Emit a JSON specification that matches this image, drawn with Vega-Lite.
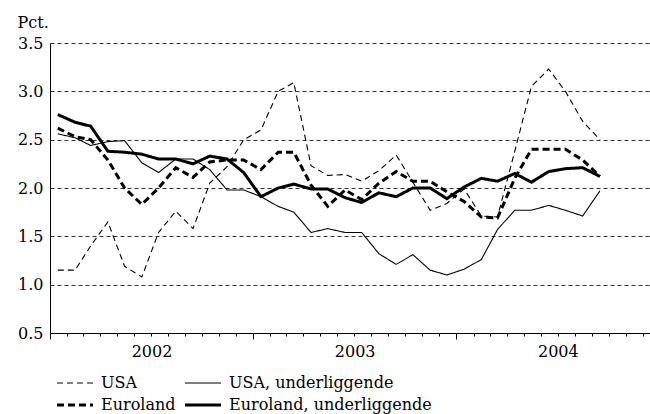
{
  "$schema": "https://vega.github.io/schema/vega-lite/v6.json",
  "width": 600,
  "height": 290,
  "autosize": {"type": "none"},
  "padding": {"left": 50, "top": 43, "right": 0, "bottom": 81},
  "background": "white",
  "config": {
    "view": {"stroke": null},
    "font": "DejaVu Serif",
    "axis": {"labelFont": "DejaVu Serif", "titleFont": "DejaVu Serif", "labelColor": "black", "titleColor": "black"},
    "legend": {"labelFont": "DejaVu Serif"}
  },
  "data": {
    "values": [
      {"date": "2002-01-15", "USA": 1.15, "USA, underliggende": 2.56, "Euroland": 2.62, "Euroland, underliggende": 2.76},
      {"date": "2002-02-15", "USA": 1.15, "USA, underliggende": 2.52, "Euroland": 2.53, "Euroland, underliggende": 2.68},
      {"date": "2002-03-15", "USA": 1.40, "USA, underliggende": 2.44, "Euroland": 2.50, "Euroland, underliggende": 2.64},
      {"date": "2002-04-15", "USA": 1.65, "USA, underliggende": 2.48, "Euroland": 2.29, "Euroland, underliggende": 2.38},
      {"date": "2002-05-15", "USA": 1.19, "USA, underliggende": 2.49, "Euroland": 2.00, "Euroland, underliggende": 2.37},
      {"date": "2002-06-15", "USA": 1.08, "USA, underliggende": 2.26, "Euroland": 1.83, "Euroland, underliggende": 2.35},
      {"date": "2002-07-15", "USA": 1.54, "USA, underliggende": 2.16, "Euroland": 2.00, "Euroland, underliggende": 2.30},
      {"date": "2002-08-15", "USA": 1.76, "USA, underliggende": 2.30, "Euroland": 2.21, "Euroland, underliggende": 2.30},
      {"date": "2002-09-15", "USA": 1.58, "USA, underliggende": 2.30, "Euroland": 2.11, "Euroland, underliggende": 2.25},
      {"date": "2002-10-15", "USA": 2.05, "USA, underliggende": 2.19, "Euroland": 2.27, "Euroland, underliggende": 2.33},
      {"date": "2002-11-15", "USA": 2.22, "USA, underliggende": 1.98, "Euroland": 2.29, "Euroland, underliggende": 2.30},
      {"date": "2002-12-15", "USA": 2.50, "USA, underliggende": 1.98, "Euroland": 2.29, "Euroland, underliggende": 2.16},
      {"date": "2003-01-15", "USA": 2.60, "USA, underliggende": 1.91, "Euroland": 2.19, "Euroland, underliggende": 1.91},
      {"date": "2003-02-15", "USA": 3.00, "USA, underliggende": 1.81, "Euroland": 2.37, "Euroland, underliggende": 2.00},
      {"date": "2003-03-15", "USA": 3.09, "USA, underliggende": 1.75, "Euroland": 2.37, "Euroland, underliggende": 2.04},
      {"date": "2003-04-15", "USA": 2.23, "USA, underliggende": 1.54, "Euroland": 2.03, "Euroland, underliggende": 1.99},
      {"date": "2003-05-15", "USA": 2.13, "USA, underliggende": 1.58, "Euroland": 1.81, "Euroland, underliggende": 1.99},
      {"date": "2003-06-15", "USA": 2.14, "USA, underliggende": 1.54, "Euroland": 1.98, "Euroland, underliggende": 1.90},
      {"date": "2003-07-15", "USA": 2.07, "USA, underliggende": 1.54, "Euroland": 1.88, "Euroland, underliggende": 1.85},
      {"date": "2003-08-15", "USA": 2.18, "USA, underliggende": 1.32, "Euroland": 2.05, "Euroland, underliggende": 1.95},
      {"date": "2003-09-15", "USA": 2.34, "USA, underliggende": 1.21, "Euroland": 2.17, "Euroland, underliggende": 1.91},
      {"date": "2003-10-15", "USA": 2.06, "USA, underliggende": 1.31, "Euroland": 2.07, "Euroland, underliggende": 2.00},
      {"date": "2003-11-15", "USA": 1.77, "USA, underliggende": 1.15, "Euroland": 2.07, "Euroland, underliggende": 2.00},
      {"date": "2003-12-15", "USA": 1.84, "USA, underliggende": 1.10, "Euroland": 1.96, "Euroland, underliggende": 1.89},
      {"date": "2004-01-15", "USA": 1.99, "USA, underliggende": 1.16, "Euroland": 1.86, "Euroland, underliggende": 2.01},
      {"date": "2004-02-15", "USA": 1.71, "USA, underliggende": 1.26, "Euroland": 1.70, "Euroland, underliggende": 2.10},
      {"date": "2004-03-15", "USA": 1.70, "USA, underliggende": 1.57, "Euroland": 1.69, "Euroland, underliggende": 2.07},
      {"date": "2004-04-15", "USA": 2.38, "USA, underliggende": 1.77, "Euroland": 2.10, "Euroland, underliggende": 2.15},
      {"date": "2004-05-15", "USA": 3.05, "USA, underliggende": 1.77, "Euroland": 2.40, "Euroland, underliggende": 2.06},
      {"date": "2004-06-15", "USA": 3.23, "USA, underliggende": 1.82, "Euroland": 2.40, "Euroland, underliggende": 2.17},
      {"date": "2004-07-15", "USA": 3.00, "USA, underliggende": 1.77, "Euroland": 2.40, "Euroland, underliggende": 2.20},
      {"date": "2004-08-15", "USA": 2.69, "USA, underliggende": 1.71, "Euroland": 2.29, "Euroland, underliggende": 2.21},
      {"date": "2004-09-15", "USA": 2.50, "USA, underliggende": 1.97, "Euroland": 2.12, "Euroland, underliggende": 2.12}
    ]
  },
  "transform": [
    {"fold": ["USA", "USA, underliggende", "Euroland", "Euroland, underliggende"], "as": ["series", "value"]}
  ],
  "layer": [
    {
      "mark": {"type": "rule", "opacity": 0},
      "encoding": {
        "x": {
          "field": "date", "type": "temporal",
          "scale": {"type": "utc", "domain": [{"year": 2002, "month": 1, "date": 1, "utc": true}, {"year": 2004, "month": 12, "date": 14, "utc": true}]},
          "axis": {
            "orient": "bottom", "title": null, "domain": false, "grid": false,
            "tickCount": {"interval": "year", "step": 1},
            "ticks": true, "tickSize": 6, "tickColor": "black", "tickWidth": 1,
            "format": "%Y", "labelOffset": 101.5, "labelFlush": false, "labelOverlap": false, "labelBound": false,
            "labelFontSize": 16, "labelPadding": 4, "labelAlign": "center", "labelBaseline": "top"
          }
        }
      }
    },
    {
      "mark": {"type": "line"},
      "encoding": {
        "x": {
          "field": "date", "type": "temporal",
          "axis": {
            "orient": "bottom", "title": null, "domain": true, "domainColor": "black", "domainWidth": 1, "grid": false,
            "tickCount": {"interval": "month", "step": 1},
            "ticks": true, "tickSize": 3, "tickColor": "black", "tickWidth": 1, "labels": false
          }
        },
        "y": {
          "field": "value", "type": "quantitative",
          "scale": {"domain": [0.5, 3.5], "nice": false, "zero": false},
          "axis": {
            "title": "Pct.", "titleAngle": 0, "titleAlign": "left", "titleBaseline": "alphabetic",
            "titleX": -33, "titleY": -16, "titleFontSize": 16, "titleFontWeight": "normal",
            "values": [0.5, 1, 1.5, 2, 2.5, 3, 3.5], "format": ".1f",
            "labelFontSize": 16, "labelPadding": 7, "ticks": false,
            "domain": true, "domainColor": "black", "domainWidth": 1,
            "grid": true, "gridColor": "#333", "gridDash": [4, 3], "gridWidth": 1
          }
        },
        "color": {
          "field": "series", "type": "nominal",
          "scale": {"domain": ["USA", "Euroland", "USA, underliggende", "Euroland, underliggende"], "range": ["black", "black", "black", "black"]},
          "legend": {"title": null, "orient": "none", "legendX": 5, "legendY": 330, "columns": 2, "symbolType": "stroke", "symbolSize": 1300, "clipHeight": 20, "labelFontSize": 16, "labelLimit": 400, "labelColor": "black", "columnPadding": 7, "rowPadding": 2, "labelOffset": 6, "padding": 0}
        },
        "strokeDash": {
          "field": "series", "type": "nominal",
          "scale": {"domain": ["USA", "Euroland", "USA, underliggende", "Euroland, underliggende"], "range": [[6, 4], [7, 4], [1, 0], [1, 0]]},
          "legend": {"title": null, "orient": "none", "legendX": 5, "legendY": 330, "columns": 2, "symbolType": "stroke", "symbolSize": 1300, "clipHeight": 20, "labelFontSize": 16, "labelLimit": 400, "labelColor": "black", "columnPadding": 7, "rowPadding": 2, "labelOffset": 6, "padding": 0}
        },
        "strokeWidth": {
          "field": "series", "type": "ordinal",
          "scale": {"type": "ordinal", "domain": ["USA", "Euroland", "USA, underliggende", "Euroland, underliggende"], "range": [1.1, 3, 1.1, 3]},
          "legend": {"title": null, "orient": "none", "legendX": 5, "legendY": 330, "columns": 2, "symbolType": "stroke", "symbolSize": 1300, "clipHeight": 20, "labelFontSize": 16, "labelLimit": 400, "labelColor": "black", "columnPadding": 7, "rowPadding": 2, "labelOffset": 6, "padding": 0}
        }
      }
    }
  ],
  "resolve": {"axis": {"x": "independent"}}
}
